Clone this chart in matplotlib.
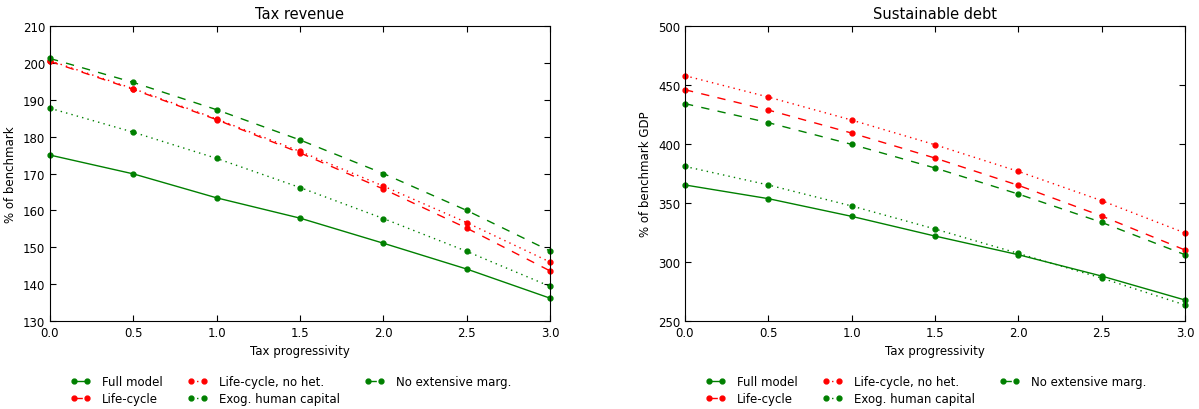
import numpy as np
import matplotlib
matplotlib.use("Agg")
import matplotlib.pyplot as plt

# tax progressivity grid
x = [0.0, 0.5, 1.0, 1.5, 2.0, 2.5, 3.0]

# Tax revenue, % of benchmark
rev_full = [175.0, 169.9, 163.4, 157.9, 151.1, 144.1, 136.2]
rev_lc = [200.4, 192.8, 184.6, 175.6, 165.8, 155.2, 143.6]
rev_lc_nohet = [200.6, 193.0, 184.8, 176.0, 166.6, 156.7, 146.0]
rev_exog = [187.7, 181.2, 174.1, 166.2, 157.8, 148.9, 139.4]
rev_noext = [201.2, 194.7, 187.3, 179.1, 170.0, 160.0, 149.0]

# Sustainable debt, % of benchmark GDP
debt_full = [365.3, 353.7, 338.7, 322.0, 306.2, 288.1, 267.8]
debt_lc = [446.0, 428.8, 409.3, 388.1, 365.0, 339.0, 310.2]
debt_lc_nohet = [457.9, 439.8, 420.3, 399.4, 376.8, 352.0, 324.6]
debt_exog = [381.0, 365.3, 347.5, 328.0, 307.3, 286.4, 263.6]
debt_noext = [434.2, 418.1, 399.7, 379.7, 357.6, 333.6, 306.2]

labels = ["Full model", "Life-cycle", "Life-cycle, no het.",
          "Exog. human capital", "No extensive marg."]
green = (0, 0.5, 0)
red = (1, 0, 0)
colors = [green, red, red, green, green]
dashes = [None, (6, 6), (1, 3), (1, 3), (6, 6)]

plt.rcParams["lines.scale_dashes"] = False
plt.rcParams["font.size"] = 8.5

fig = plt.figure(figsize=(11.99, 4.10), dpi=100)
ax1 = fig.add_axes([0.0417, 0.2146, 0.417, 0.7195])
ax2 = fig.add_axes([0.5713, 0.2146, 0.417, 0.7195])

panels = [
    (ax1, [rev_full, rev_lc, rev_lc_nohet, rev_exog, rev_noext],
     "Tax revenue", "% of benchmark", (130, 210), 10),
    (ax2, [debt_full, debt_lc, debt_lc_nohet, debt_exog, debt_noext],
     "Sustainable debt", "% of benchmark GDP", (250, 500), 50),
]

for ax, series, title, ylab, ylim, step in panels:
    for vals, lab, c, d in zip(series, labels, colors, dashes):
        line, = ax.plot(x, vals, color=c, marker="o", markersize=3.5,
                        markeredgecolor=c, linewidth=1.0, label=lab,
                        clip_on=False)
        if d is not None:
            line.set_dashes(d)
    ax.set_xlim(0, 3)
    ax.set_ylim(*ylim)
    ax.set_yticks(np.arange(ylim[0], ylim[1] + 1, step))
    ax.set_xticks(x)
    ax.set_title(title, fontsize=10.5)
    ax.set_ylabel(ylab, fontsize=8.5)
    ax.set_xlabel("Tax progressivity", fontsize=8.5)
    ax.tick_params(direction="in", top=True, right=True, length=4,
                   labelsize=8.5)
    ax.legend(loc="upper left", bbox_to_anchor=(0.02, -0.148), ncol=3,
              frameon=False, numpoints=2, handlelength=1.7, fontsize=8.5,
              columnspacing=2.1, handletextpad=0.95, labelspacing=0.3)

plt.savefig("out.png", dpi=100, facecolor="white")
